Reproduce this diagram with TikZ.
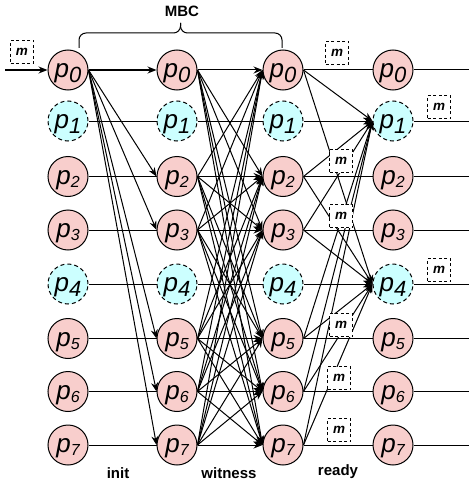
\documentclass[tikz,border=0pt]{standalone}
\usepackage{fontspec}
\setmainfont{Liberation Sans}
\usetikzlibrary{arrows.meta}
\definecolor{okfill}{HTML}{F8CECC}
\definecolor{badfill}{HTML}{CCFFFF}
\newcommand\plab[2]{\itshape p\ifnum#2=1 \raisebox{-5pt}{\fontsize{22}{22}\selectfont #1}\else\raisebox{-3pt}{\fontsize{16}{16}\selectfont #1}\fi}
\begin{document}
\begin{tikzpicture}[x=1pt,y=-1pt, line width=1pt,
  proc/.style={circle, draw, minimum size=40pt, inner sep=0pt, fill=okfill,
    text height=16pt, text depth=1pt, font=\fontsize{26}{26}\selectfont},
  bad/.style={proc, fill=badfill, dash pattern=on 4pt off 3pt},
  mbox/.style={draw, dash pattern=on 3pt off 2.5pt, fill=white, minimum width=23pt,
    minimum height=23pt, inner sep=0pt, font=\fontsize{13.5}{13.5}\selectfont\bfseries\itshape},
  arr/.style={-{Stealth[length=9pt,width=7pt]}},
  lbl/.style={font=\fontsize{15}{15}\selectfont\bfseries}]
\useasboundingbox (0,0) rectangle (469,487);
% nodes
\foreach \i/\y/\s/\b in {0/70/proc/1, 1/121/bad/1, 2/176.5/proc/0, 3/230/proc/0,
                         4/284/bad/1, 5/338.5/proc/0, 6/391.5/proc/0, 7/445/proc/0}{
  \node[style=\s] (a\i) at (68,\y) {\plab{\i}{\b}};
  \node[style=\s] (b\i) at (177,\y) {\plab{\i}{\b}};
  \node[style=\s] (c\i) at (283,\y) {\plab{\i}{\b}};
  \node[style=\s] (d\i) at (393,\y) {\plab{\i}{\b}};
  \coordinate (e\i) at (469,\y);
}
% input
\coordinate (in) at (5,70);
\draw[arr, line width=1.4pt] (in) -- (a0.west);
% init
\draw[arr, line width=1.4pt] (a0.east) -- (b0.west);
\foreach \j in {2,3,5,6,7} \draw[arr] (a0.east) -- (b\j.west);
\foreach \i in {1,...,7} \draw (a\i.east) -- (b\i.west);
% witness
\foreach \i in {0,2,3,5,6,7}{
  \foreach \j in {0,2,3,5,6,7} \draw[arr] (b\i.east) -- (c\j.west);
}
\draw (b1.east) -- (c1.west);
\draw (b4.east) -- (c4.west);
% ready
\foreach \i in {0,2,3,5,6,7}{
  \draw (c\i.east) -- (d\i.west);
  \draw[arr] (c\i.east) -- (d1.west);
  \draw[arr] (c\i.east) -- (d4.west);
}
\draw[arr] (c1.east) -- (d1.west);
\draw[arr] (c4.east) -- (d4.west);
% outputs
\foreach \i in {0,...,7} \draw (d\i.east) -- (e\i);
% m boxes
\node[mbox] (m0) at (22,52) {m};
\node[mbox] (m1) at (337,53) {m};
\node[mbox] (m2) at (341,161) {m};
\node[mbox] (m3) at (341,216) {m};
\node[mbox] (m4) at (341,325) {m};
\node[mbox] (m5) at (339,378) {m};
\node[mbox] (m6) at (339,430) {m};
\node[mbox] (m7) at (439,107) {m};
\node[mbox] (m8) at (439,270) {m};
% brace
\coordinate (bl) at (79,48);
\coordinate (br) at (282,48);
\draw[rounded corners=7pt] (bl) -- (79,33) -- (180.5,33) -- (180.5,23);
\draw[rounded corners=7pt] (br) -- (282,33) -- (180.5,33) -- (180.5,23);
\node[lbl] (mbc) at (182,11) {MBC};
% phase labels
\node[lbl] (linit) at (118,473) {init};
\node[lbl] (lwit) at (229,473) {witness};
\node[lbl] (lready) at (338,472) {ready};
\end{tikzpicture}
\end{document}
